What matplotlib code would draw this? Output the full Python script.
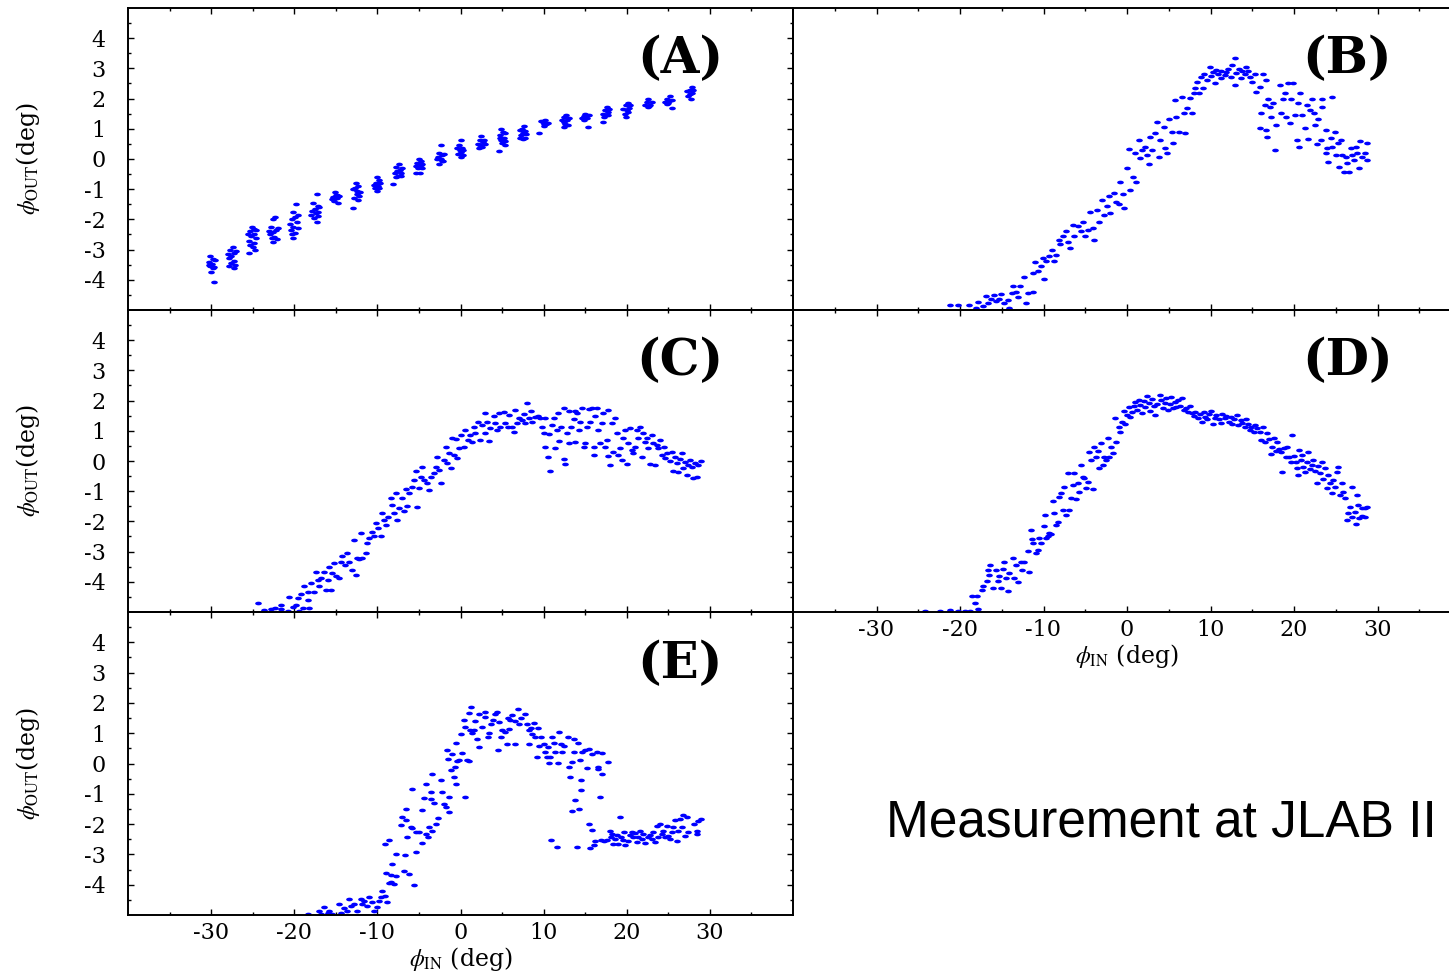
import numpy as np
import matplotlib.pyplot as plt
from matplotlib.path import Path
from matplotlib.ticker import FixedLocator

plt.rcParams['axes.unicode_minus'] = False
plt.rcParams['mathtext.fontset'] = 'stix'
plt.rcParams['font.family'] = ['DejaVu Serif']

# (phi_in, phi_out) pairs in degrees
panel_a = [
    (-30.1, -3.22), (-29.8, -3.30), (-30.2, -3.40), (-29.9, -3.48), (-30.1, -3.55), (-29.8, -3.62), (-30.0, -3.73), (-29.6, -4.08),
    (-29.5, -3.35), (-30.3, -3.50), (-29.7, -3.58),
    (-27.4, -2.92), (-27.7, -3.00), (-27.2, -3.10), (-27.6, -3.20), (-27.9, -3.28), (-27.3, -3.38), (-27.6, -3.45), (-27.8, -3.55), (-27.2, -3.62),
    (-27.0, -3.05), (-28.0, -3.15), (-27.1, -3.50),
    (-25.1, -2.25), (-24.8, -2.32), (-25.3, -2.40), (-24.9, -2.48), (-25.2, -2.55), (-25.4, -2.70), (-24.8, -2.78), (-25.0, -2.90), (-24.7, -3.00), (-25.5, -3.12),
    (-24.6, -2.35), (-25.6, -2.50), (-24.6, -2.62), (-25.3, -2.85),
    (-22.3, -1.93), (-22.6, -2.00), (-22.8, -2.25), (-22.2, -2.35), (-22.5, -2.42), (-22.9, -2.50), (-22.4, -2.58), (-22.1, -2.65), (-22.6, -2.75),
    (-22.0, -2.30), (-23.0, -2.40), (-22.7, -2.62),
    (-19.8, -1.50), (-20.2, -1.75), (-19.9, -1.92), (-20.3, -2.00), (-19.7, -2.10), (-20.1, -2.25), (-20.4, -2.35), (-19.9, -2.45), (-20.2, -2.60),
    (-19.6, -1.85), (-20.5, -2.15), (-19.6, -2.30), (-20.3, -2.50),
    (-17.3, -1.16), (-17.7, -1.45), (-17.2, -1.55), (-17.5, -1.65), (-17.9, -1.72), (-17.4, -1.80), (-17.1, -1.88), (-17.6, -1.97), (-17.3, -2.10),
    (-17.0, -1.60), (-18.0, -1.85), (-17.2, -1.75),
    (-15.1, -1.10), (-14.8, -1.18), (-15.3, -1.25), (-14.9, -1.30), (-15.2, -1.38), (-14.7, -1.45),
    (-14.6, -1.22), (-15.4, -1.32), (-15.0, -1.20),
    (-12.6, -0.78), (-12.3, -0.88), (-12.7, -0.95), (-12.4, -1.05), (-12.5, -1.15), (-12.8, -1.28), (-12.3, -1.35), (-12.9, -1.62),
    (-12.1, -1.10), (-12.9, -1.00), (-12.2, -1.22),
    (-10.1, -0.60), (-9.8, -0.70), (-10.2, -0.80), (-9.9, -0.88), (-10.3, -0.95), (-10.0, -1.05),
    (-9.7, -0.78), (-10.4, -0.85), (-9.8, -0.95),
    (-7.4, -0.15), (-7.7, -0.25), (-7.3, -0.35), (-7.6, -0.40), (-7.2, -0.48), (-7.5, -0.55), (-7.8, -0.60), (-8.1, -0.82),
    (-7.0, -0.30), (-7.9, -0.45), (-7.1, -0.55),
    (-5.0, 0.00), (-4.7, -0.05), (-5.2, -0.12), (-4.8, -0.20), (-5.1, -0.30), (-4.9, -0.45), (-5.3, -0.48),
    (-4.6, -0.15), (-5.4, -0.22), (-4.6, -0.30),
    (-2.4, 0.45), (-2.6, 0.20), (-2.2, 0.12), (-2.7, 0.05), (-2.4, 0.00), (-2.1, -0.08), (-2.6, -0.18),
    (-2.0, 0.15), (-2.8, 0.00), (-2.2, -0.05),
    (0.0, 0.62), (-0.2, 0.45), (0.2, 0.38), (-0.1, 0.30), (0.1, 0.22), (-0.3, 0.15), (0.0, 0.05),
    (0.3, 0.30), (-0.4, 0.35), (0.3, 0.12),
    (2.5, 0.76), (2.3, 0.62), (2.7, 0.55), (2.4, 0.48), (2.6, 0.40), (2.2, 0.35),
    (2.9, 0.50), (2.1, 0.50), (2.8, 0.62),
    (4.9, 1.00), (5.1, 0.88), (4.8, 0.78), (5.2, 0.70), (4.9, 0.62), (5.0, 0.52), (5.3, 0.45), (4.6, 0.28),
    (5.4, 0.60), (4.7, 0.70), (5.4, 0.85),
    (7.6, 1.08), (7.4, 1.00), (7.8, 0.92), (7.5, 0.85), (7.3, 0.78), (7.7, 0.68), (7.5, 0.65),
    (7.1, 0.95), (7.9, 0.82), (7.2, 0.70),
    (10.2, 1.30), (9.9, 1.22), (10.3, 1.15), (10.0, 1.08), (9.5, 0.85),
    (9.7, 1.25), (10.5, 1.20), (10.1, 1.15),
    (12.7, 1.45), (12.4, 1.38), (12.8, 1.30), (12.5, 1.22), (12.9, 1.12), (12.4, 1.05),
    (12.2, 1.28), (13.0, 1.35), (12.6, 1.15),
    (15.0, 1.50), (14.8, 1.42), (15.2, 1.35), (14.9, 1.28), (15.3, 1.05),
    (14.6, 1.35), (15.4, 1.45), (15.0, 1.38),
    (17.6, 1.72), (17.4, 1.62), (17.8, 1.55), (17.5, 1.45), (17.3, 1.38), (17.1, 1.22),
    (17.9, 1.65), (17.2, 1.50), (17.7, 1.45),
    (20.1, 1.85), (19.9, 1.78), (20.3, 1.70), (20.0, 1.62), (19.8, 1.50), (19.9, 1.40),
    (19.6, 1.65), (20.4, 1.80), (20.2, 1.55),
    (22.6, 1.98), (22.4, 1.88), (22.8, 1.80), (22.5, 1.72),
    (22.2, 1.80), (23.0, 1.90), (22.7, 1.75),
    (25.2, 2.10), (24.9, 2.00), (25.1, 1.92), (24.8, 1.82), (25.4, 1.68),
    (24.6, 1.90), (25.4, 1.95), (25.0, 1.85),
    (27.8, 2.38), (27.6, 2.28), (27.9, 2.20), (27.4, 2.10), (27.7, 2.00),
    (27.3, 2.25), (28.0, 2.30), (27.6, 2.15),
]

panel_b = [
    (-21.2, -4.84), (-20.2, -4.82), (-18.9, -4.82), (-18.1, -4.93), (-17.8, -4.72), (-17.3, -4.87), (-16.9, -4.52), (-16.6, -4.76),
    (-16.3, -4.65), (-15.9, -4.50), (-15.7, -4.71), (-15.3, -4.63), (-15.1, -4.46), (-14.7, -4.76), (-14.3, -4.67), (-14.1, -4.93),
    (-13.8, -4.45), (-13.6, -4.19), (-13.3, -4.41), (-13.0, -4.56), (-12.8, -4.19), (-12.3, -3.90), (-12.1, -4.76), (-11.9, -4.43),
    (-11.3, -4.40), (-11.2, -3.77), (-11.0, -3.42), (-10.7, -3.72), (-10.3, -3.55), (-10.1, -3.28), (-9.9, -3.97), (-9.7, -3.39),
    (-9.3, -3.22), (-9.0, -3.00), (-8.8, -3.39), (-8.5, -3.17), (-8.2, -2.67), (-8.0, -2.80), (-7.7, -2.56), (-7.3, -2.40),
    (-7.1, -2.76), (-6.8, -2.95), (-6.5, -2.18), (-6.3, -2.56), (-5.9, -2.23), (-5.5, -2.40), (-5.3, -2.07), (-5.0, -2.56),
    (-4.7, -2.34), (-4.4, -1.74), (-4.1, -2.29), (-3.9, -2.67), (-3.6, -1.70), (-3.3, -2.07), (-3.0, -1.35), (-2.8, -1.85),
    (-2.4, -1.57), (-2.1, -1.24), (-2.0, -1.79), (-1.6, -1.13), (-1.3, -1.41), (-1.0, -1.48), (-0.8, -0.75), (-0.5, -1.15),
    (-0.3, -1.63), (0.0, -0.30), (0.2, 0.32), (0.4, -1.02), (0.7, -0.58), (1.0, 0.19), (1.1, -0.75), (1.4, 0.63),
    (1.6, 0.03), (1.8, 0.30), (2.2, 0.41), (2.4, 0.14), (2.6, -0.16), (2.8, 0.74), (3.0, 0.30), (3.3, 0.85),
    (3.6, 1.23), (3.8, 0.08), (4.0, 0.63), (4.4, 1.05), (4.6, 0.36), (4.8, 0.19), (5.0, 1.34), (5.4, 0.91),
    (5.5, 0.52), (5.8, 1.95), (5.9, 1.38), (6.2, 0.91), (6.6, 2.06), (6.8, 1.51), (6.9, 0.85), (7.2, 1.68),
    (7.6, 2.01), (7.8, 1.51), (8.0, 2.17), (8.2, 2.34), (8.4, 2.56), (8.6, 2.17), (8.9, 2.72), (9.1, 2.34),
    (9.2, 2.83), (9.6, 2.61), (9.9, 3.03), (10.1, 2.74), (10.3, 2.89), (10.5, 2.50), (10.7, 2.96), (10.9, 2.83),
    (11.2, 2.67), (11.3, 2.92), (11.7, 2.77), (11.9, 2.89), (12.1, 2.99), (12.4, 2.70), (12.6, 3.10), (12.9, 3.36),
    (12.9, 2.45), (13.1, 2.85), (13.4, 2.99), (13.6, 2.67), (13.8, 2.92), (14.1, 2.83), (14.3, 3.05), (14.5, 2.92),
    (14.7, 2.72), (15.0, 2.56), (15.3, 2.83), (15.5, 2.23), (15.9, 2.39), (16.3, 2.81), (16.0, 1.53), (15.9, 1.01),
    (16.5, 1.78), (16.7, 2.61), (16.7, 0.96), (16.8, 0.74), (16.9, 1.98), (17.1, 1.73), (17.3, 1.40), (17.5, 1.84),
    (17.7, 0.30), (17.9, 1.12), (18.3, 2.44), (18.5, 1.51), (18.7, 1.98), (18.9, 2.17), (19.1, 1.40), (19.3, 2.50),
    (19.5, 1.18), (19.7, 2.00), (19.9, 2.50), (20.1, 1.45), (20.3, 0.63), (20.5, 1.84), (20.6, 0.39), (20.7, 2.19),
    (20.9, 1.45), (21.3, 1.01), (21.5, 1.78), (21.7, 0.65), (21.9, 1.62), (22.1, 1.98), (22.4, 1.51), (22.5, 1.12),
    (22.8, 0.50), (22.9, 1.34), (23.2, 0.63), (23.4, 1.98), (23.4, 1.73), (23.8, 0.96), (23.8, 0.19), (24.0, 0.36),
    (24.1, -0.09), (24.4, 0.69), (24.6, 2.04), (24.6, 0.41), (24.9, 0.91), (25.0, 0.14), (25.3, 0.52), (25.4, -0.25),
    (25.6, 0.63), (25.8, 0.14), (26.0, -0.42), (26.2, 0.06), (26.4, -0.14), (26.6, -0.42), (26.8, 0.36), (27.0, 0.14),
    (27.2, -0.03), (27.4, 0.41), (27.6, 0.19), (27.8, -0.30), (27.9, 0.58), (28.2, 0.08), (28.5, 0.19), (28.8, 0.52),
    (28.8, -0.03),
]

panel_c = [
    (-24.4, -4.70), (-23.6, -4.95), (-22.8, -4.90), (-22.3, -4.88), (-21.6, -4.76), (-21.6, -4.90), (-20.8, -4.97), (-20.6, -4.50),
    (-20.2, -4.84), (-19.8, -4.77), (-19.6, -4.54), (-19.4, -4.96), (-19.2, -4.40), (-19.0, -4.87), (-18.8, -4.15), (-18.4, -4.60),
    (-18.3, -4.35), (-18.2, -4.87), (-18.0, -4.04), (-17.6, -4.34), (-17.4, -3.69), (-17.2, -3.93), (-17.0, -4.15), (-16.8, -3.88),
    (-16.4, -3.69), (-16.2, -4.26), (-16.0, -3.93), (-15.8, -3.52), (-15.6, -4.26), (-15.4, -3.71), (-15.2, -3.38), (-15.0, -3.82),
    (-14.6, -3.88), (-14.4, -3.33), (-14.2, -3.16), (-13.9, -3.44), (-13.6, -3.05), (-13.4, -3.33), (-13.1, -3.62), (-12.8, -2.63),
    (-12.6, -3.77), (-12.4, -3.22), (-12.2, -3.25), (-12.0, -2.37), (-11.8, -3.22), (-11.4, -3.05), (-11.2, -2.72), (-11.0, -2.56),
    (-10.6, -2.34), (-10.4, -2.50), (-10.2, -2.06), (-9.9, -2.23), (-9.6, -2.50), (-9.4, -1.73), (-9.2, -1.97), (-9.0, -2.12),
    (-8.7, -1.84), (-8.4, -1.23), (-8.3, -1.45), (-8.0, -1.71), (-7.8, -1.05), (-7.6, -1.95), (-7.4, -1.54), (-7.0, -1.23),
    (-6.8, -1.67), (-6.6, -0.94), (-6.4, -1.49), (-6.2, -1.07), (-5.8, -0.85), (-5.6, -0.63), (-5.4, -0.32), (-5.2, -1.51),
    (-5.0, -0.90), (-4.8, -0.52), (-4.6, -0.21), (-4.4, -0.63), (-4.0, -0.74), (-3.8, -0.96), (-3.6, -0.52), (-3.2, -0.41),
    (-3.0, -0.21), (-2.8, 0.14), (-2.6, -0.30), (-2.4, -0.74), (-2.0, 0.03), (-1.8, 0.47), (-1.6, -0.08), (-1.4, 0.28),
    (-1.2, -0.24), (-1.0, 0.75), (-0.8, 0.20), (-0.6, 0.72), (-0.4, 0.09), (-0.2, 0.42), (0.1, 0.86), (0.4, 0.47),
    (0.6, 1.03), (0.9, 0.69), (1.2, 0.86), (1.4, 0.64), (1.6, 1.14), (1.8, 0.92), (2.1, 1.30), (2.4, 0.69),
    (2.6, 1.19), (2.9, 1.58), (3.0, 0.92), (3.2, 1.30), (3.4, 0.67), (3.6, 1.08), (4.0, 1.49), (4.2, 1.25),
    (4.4, 1.03), (4.6, 1.58), (4.8, 1.14), (5.2, 1.62), (5.4, 1.25), (5.7, 1.11), (5.8, 1.52), (6.2, 1.14),
    (6.4, 0.97), (6.6, 1.69), (6.8, 1.25), (7.0, 1.41), (7.4, 1.36), (7.6, 1.55), (7.8, 1.25), (8.0, 1.93),
    (8.2, 1.41), (8.5, 1.66), (8.6, 1.30), (9.0, 1.47), (9.3, 1.49), (9.6, 1.44), (9.8, 1.14), (10.0, 0.92),
    (10.2, 1.41), (10.2, 0.47), (10.5, 0.14), (10.6, 0.89), (10.8, -0.32), (11.0, 1.19), (11.3, 1.44), (11.4, 0.42),
    (11.6, 1.03), (11.7, 1.58), (11.8, 0.67), (12.1, 1.14), (12.4, 1.74), (12.5, 0.05), (12.6, -0.10), (12.8, 0.94),
    (13.0, 1.66), (13.1, 0.58), (13.3, 1.14), (13.6, 1.38), (13.8, 1.66), (13.8, 0.64), (14.0, 1.58), (14.2, 1.03),
    (14.4, 1.30), (14.6, 1.74), (14.8, 0.47), (15.0, 0.58), (15.2, 1.11), (15.4, 1.71), (15.6, 1.30), (15.8, 1.74),
    (16.0, 0.20), (16.1, 0.47), (16.2, 1.49), (16.4, 1.74), (16.6, 1.03), (16.8, 0.61), (17.0, 1.25), (17.2, 1.60),
    (17.4, 0.47), (17.6, 0.69), (17.8, 1.69), (17.8, 0.17), (18.0, -0.13), (18.2, 1.25), (18.4, 0.31), (18.6, 1.41),
    (18.8, 0.92), (19.0, 0.20), (19.2, 0.42), (19.4, 0.03), (19.6, 0.75), (19.8, 1.03), (20.0, -0.10), (20.2, 0.58),
    (20.4, 1.08), (20.6, 0.36), (20.8, 0.25), (21.0, 0.47), (21.2, 1.03), (21.4, 0.75), (21.6, 1.14), (21.8, 0.14),
    (22.0, 0.92), (22.2, 0.64), (22.4, 0.75), (22.6, 0.42), (22.8, -0.10), (23.0, 0.86), (23.2, 0.58), (23.4, -0.13),
    (23.6, 0.53), (23.8, 0.42), (24.0, 0.69), (24.2, 0.20), (24.5, 0.47), (24.6, 0.09), (24.9, 0.28), (25.2, 0.01),
    (25.4, 0.31), (25.6, -0.32), (25.8, 0.14), (26.0, -0.08), (26.2, -0.35), (26.4, 0.06), (26.6, 0.25), (26.8, -0.24),
    (27.0, -0.02), (27.2, -0.46), (27.4, -0.13), (27.6, 0.03), (27.8, -0.21), (28.0, -0.57), (28.2, -0.08), (28.4, -0.52),
    (28.6, -0.13), (28.9, 0.01),
]

panel_d = [
    (-24.2, -4.97), (-22.4, -4.96), (-21.2, -4.95), (-20.2, -4.97), (-19.4, -4.96), (-18.8, -4.96), (-18.2, -4.70), (-17.8, -4.90),
    (-18.6, -4.48), (-18.0, -4.46), (-17.4, -4.26), (-17.2, -4.13), (-16.8, -3.99), (-16.5, -3.77), (-16.6, -3.60), (-16.4, -3.44),
    (-16.1, -4.21), (-15.7, -3.60), (-15.5, -3.99), (-15.3, -3.82), (-15.1, -4.21), (-14.9, -3.58), (-14.7, -3.33), (-14.5, -3.88),
    (-14.3, -4.32), (-14.1, -3.71), (-13.7, -3.22), (-13.5, -3.88), (-13.3, -3.44), (-13.1, -4.02), (-12.7, -3.33), (-12.6, -3.60),
    (-12.3, -3.33), (-11.9, -2.99), (-11.7, -3.69), (-11.5, -2.28), (-11.4, -2.59), (-11.3, -2.72), (-10.9, -3.05), (-10.7, -2.96),
    (-10.5, -2.56), (-10.3, -2.72), (-10.0, -2.15), (-9.8, -1.78), (-9.7, -2.56), (-9.5, -2.50), (-9.3, -2.39), (-9.1, -2.41),
    (-8.9, -1.34), (-8.7, -1.73), (-8.5, -2.12), (-8.3, -2.01), (-8.1, -1.18), (-7.9, -1.07), (-7.7, -1.62), (-7.5, -0.85),
    (-7.3, -1.78), (-7.1, -0.41), (-6.9, -1.62), (-6.7, -1.23), (-6.5, -0.79), (-6.3, -0.41), (-6.1, -1.27), (-5.9, -0.74),
    (-5.7, -1.01), (-5.5, -0.13), (-5.3, -0.52), (-5.1, -0.57), (-4.9, -0.90), (-4.7, -0.68), (-4.5, 0.31), (-4.3, 0.03),
    (-4.1, -0.94), (-3.9, 0.47), (-3.7, 0.14), (-3.5, 0.34), (-3.3, -0.24), (-3.1, 0.58), (-2.9, -0.13), (-2.7, 0.14),
    (-2.5, 0.03), (-2.3, 0.75), (-2.1, 0.12), (-1.9, 0.47), (-1.7, 0.28), (-1.4, 1.41), (-1.3, 0.64), (-1.0, 1.14),
    (-0.8, 0.97), (-0.6, 1.30), (-0.4, 1.66), (-0.2, 1.22), (0.0, 1.52), (0.2, 1.80), (0.4, 1.47), (0.6, 1.63),
    (0.8, 1.82), (1.0, 1.96), (1.2, 1.69), (1.4, 2.02), (1.6, 1.85), (1.8, 1.58), (2.0, 1.99), (2.2, 1.80),
    (2.4, 2.15), (2.6, 1.91), (2.8, 1.66), (3.0, 2.04), (3.2, 1.82), (3.4, 1.52), (3.6, 1.88), (3.9, 2.19),
    (4.1, 2.02), (4.3, 1.74), (4.5, 1.93), (4.7, 2.10), (4.9, 1.69), (5.1, 1.88), (5.3, 2.13), (5.5, 1.74),
    (5.7, 1.96), (5.9, 1.80), (6.1, 2.02), (6.4, 1.82), (6.6, 2.07), (6.8, 1.69), (7.1, 1.74), (7.3, 1.63),
    (7.6, 1.82), (7.8, 1.58), (8.0, 1.49), (8.2, 1.63), (8.5, 1.44), (8.7, 1.55), (9.0, 1.30), (9.2, 1.63),
    (9.4, 1.47), (9.6, 1.38), (9.8, 1.55), (10.1, 1.66), (10.3, 1.22), (10.5, 1.44), (10.7, 1.52), (11.0, 1.38),
    (11.2, 1.27), (11.4, 1.55), (11.7, 1.41), (11.9, 1.49), (12.2, 1.30), (12.4, 1.47), (12.6, 1.22), (12.8, 1.38),
    (13.2, 1.52), (13.3, 1.19), (13.6, 1.36), (13.8, 1.27), (14.1, 1.14), (14.3, 1.38), (14.5, 1.22), (14.7, 1.03),
    (14.9, 1.14), (15.2, 0.97), (15.3, 1.19), (15.6, 1.08), (15.9, 0.97), (16.1, 0.69), (16.3, 1.11), (16.5, 0.64),
    (16.8, 0.92), (17.0, 0.72), (17.2, 0.23), (17.4, 0.47), (17.6, 0.75), (17.8, 0.34), (18.0, 0.64), (18.2, 0.39),
    (18.4, 0.31), (18.6, -0.35), (18.8, 0.42), (19.0, 0.14), (19.2, 0.47), (19.4, 0.12), (19.6, -0.02), (19.8, 0.86),
    (20.0, 0.17), (20.2, -0.02), (20.3, -0.24), (20.5, -0.46), (20.6, 0.36), (20.8, 0.03), (21.0, 0.20), (21.1, -0.19),
    (21.3, -0.35), (21.5, -0.02), (21.7, 0.31), (21.9, -0.28), (22.1, -0.13), (22.3, 0.03), (22.5, -0.32), (22.7, -0.74),
    (22.9, -0.17), (23.1, -0.41), (23.3, -0.02), (23.5, -0.61), (23.7, -0.24), (23.9, -0.90), (24.1, -0.46), (24.3, -0.74),
    (24.5, -1.07), (24.7, -0.63), (24.9, -0.85), (25.1, -0.35), (25.3, -0.21), (25.5, -1.12), (25.7, -0.74), (25.9, -1.01),
    (26.1, -1.23), (26.3, -1.95), (26.5, -1.73), (26.7, -1.51), (26.9, -0.87), (27.0, -1.86), (27.3, -1.68), (27.4, -2.08),
    (27.5, -1.12), (27.7, -1.45), (27.8, -1.90), (28.1, -1.56), (28.2, -1.82), (28.5, -1.56), (28.7, -1.53), (28.5, -1.84),
]

panel_e = [
    (-18.4, -4.97), (-17.0, -4.88), (-16.8, -4.97), (-16.4, -4.73), (-16.0, -4.95), (-15.8, -4.86), (-15.4, -4.97), (-14.6, -4.64),
    (-14.4, -4.95), (-14.0, -4.77), (-13.6, -4.86), (-13.4, -4.47), (-13.2, -4.69), (-12.8, -4.64), (-12.4, -4.86), (-12.0, -4.47),
    (-11.8, -4.64), (-11.6, -4.55), (-11.2, -4.69), (-11.0, -4.42), (-10.7, -4.58), (-10.4, -4.86), (-10.0, -4.75), (-9.8, -4.53),
    (-9.6, -4.42), (-9.4, -4.20), (-9.1, -4.36), (-8.8, -4.58), (-8.6, -3.96), (-8.4, -3.92), (-8.2, -3.32), (-8.0, -3.98),
    (-9.0, -3.63), (-8.4, -3.67), (-7.8, -3.70), (-9.1, -2.66), (-8.6, -2.52), (-7.8, -2.99), (-7.2, -2.02), (-7.0, -1.78),
    (-6.8, -3.54), (-6.7, -3.01), (-6.6, -1.88), (-6.6, -1.50), (-6.4, -2.44), (-6.2, -3.65), (-6.0, -2.11), (-5.8, -0.84),
    (-5.8, -2.13), (-5.6, -4.00), (-5.4, -2.93), (-5.4, -2.27), (-5.0, -2.27), (-4.6, -1.55), (-4.6, -2.63), (-4.4, -1.14),
    (-4.2, -2.33), (-4.2, -0.69), (-3.9, -2.44), (-3.8, -2.11), (-3.6, -1.17), (-3.5, -0.95), (-3.4, -2.22), (-3.4, -0.36),
    (-3.2, -1.31), (-3.0, -1.99), (-2.7, -1.80), (-2.3, -0.56), (-2.2, -0.95), (-2.0, -1.33), (-1.8, -1.44), (-1.6, 0.45),
    (-1.5, 0.15), (-1.4, -1.61), (-1.4, -1.11), (-1.2, -0.23), (-1.0, 0.32), (-0.8, -0.45), (-0.7, -0.10), (-0.6, 0.67),
    (-0.6, -0.69), (-0.4, 0.08), (-0.2, 0.12), (0.0, 0.96), (0.2, 0.34), (0.4, 1.42), (0.5, -1.11), (0.6, 1.22),
    (0.8, 0.10), (1.0, 0.08), (1.0, 1.66), (1.2, 1.11), (1.3, 1.88), (1.4, 1.00), (1.6, 1.11), (1.8, 1.40),
    (2.0, 0.81), (2.2, 0.56), (2.2, 1.62), (2.6, 1.22), (2.9, 1.55), (3.0, 1.70), (3.3, 0.87), (3.4, 1.00),
    (3.7, 1.31), (3.9, 1.44), (4.2, 1.62), (4.4, 1.70), (4.5, 0.43), (4.6, 1.37), (4.9, 0.89), (5.0, 1.09),
    (5.4, 1.04), (5.6, 0.65), (5.7, 1.51), (5.8, 1.14), (6.0, 1.42), (6.2, 1.59), (6.6, 0.65), (6.6, 1.40),
    (6.9, 1.81), (7.0, 1.31), (7.3, 1.51), (7.8, 1.62), (8.0, 1.31), (8.2, 1.11), (8.2, 0.63), (8.5, 1.18),
    (8.6, 0.98), (8.9, 1.33), (9.0, 0.87), (9.2, 0.21), (9.3, 1.18), (9.4, 0.59), (9.7, 0.87), (10.0, 0.63),
    (10.2, 0.37), (10.4, 0.21), (10.5, 0.56), (10.6, 0.01), (10.8, 0.23), (10.9, -2.52), (11.0, 0.87), (11.3, 0.67),
    (11.4, 0.37), (11.6, -2.77), (11.7, 0.01), (11.8, 1.04), (12.1, 0.65), (12.2, 0.37), (12.5, 0.59), (12.9, 0.87),
    (13.0, -0.12), (13.2, -0.43), (13.4, 0.04), (13.4, -1.58), (13.6, 0.81), (13.7, 0.37), (13.8, -1.22), (14.0, -2.75),
    (14.1, 0.67), (14.2, -1.50), (14.4, 0.10), (14.5, -0.56), (14.5, -0.89), (14.6, 0.37), (15.0, 0.43), (15.2, -0.14),
    (15.4, 0.48), (15.4, -1.99), (15.6, -2.79), (15.8, 0.32), (15.8, -2.19), (16.0, -2.68), (16.2, -2.55), (16.4, 0.37),
    (16.5, -0.18), (16.6, -0.12), (16.8, -1.11), (16.9, -2.52), (17.0, -0.36), (17.0, 0.34), (17.3, -2.55), (17.6, -2.52),
    (17.8, 0.04), (18.0, -2.22), (18.1, -2.44), (18.2, -2.33), (18.4, -2.66), (18.6, -2.49), (18.8, -2.35), (19.0, -2.66),
    (19.2, -1.75), (19.3, -2.44), (19.5, -2.52), (19.7, -2.27), (19.8, -2.68), (20.1, -2.55), (20.4, -2.35), (20.6, -2.27),
    (20.8, -2.44), (21.0, -2.30), (21.2, -2.60), (21.3, -2.41), (21.6, -2.22), (21.8, -2.49), (22.0, -2.33), (22.2, -2.63),
    (22.5, -2.44), (22.8, -2.35), (23.0, -2.49), (23.2, -2.27), (23.4, -2.60), (23.6, -2.05), (23.8, -2.44), (24.0, -1.99),
    (24.2, -2.33), (24.4, -2.22), (24.6, -2.44), (24.8, -2.05), (25.0, -2.38), (25.2, -2.49), (25.4, -2.27), (25.6, -2.11),
    (25.8, -1.88), (26.0, -2.55), (26.2, -2.22), (26.4, -1.83), (26.6, -2.11), (26.8, -1.69), (27.0, -2.38), (27.2, -1.78),
    (27.4, -2.27), (28.1, -1.99), (28.4, -2.24), (28.5, -2.33), (28.6, -1.91), (28.9, -1.83),
]

panel_names = ['(A)', '(B)', '(C)', '(D)', '(E)']
x_major = [-30, -20, -10, 0, 10, 20, 30]
x_minor = [-35, -25, -15, -5, 5, 15, 25, 35]
y_major = [-4, -3, -2, -1, 0, 1, 2, 3, 4]
y_minor = [-4.5, -3.5, -2.5, -1.5, -0.5, 0.5, 1.5, 2.5, 3.5, 4.5]

# small flat ellipse used as the data marker
t = np.linspace(0, 2 * np.pi, 33)
dot = Path(np.column_stack([np.cos(t), 0.55 * np.sin(t)]))

fig = plt.figure(figsize=(14.49, 9.71), dpi=100)
W, H = 1449.0, 971.0

# axes boxes in pixels: (left, top, width, height)
boxes = {
    '(A)': (128, 8, 665, 302),
    '(B)': (793, 8, 668, 302),
    '(C)': (128, 310, 665, 302),
    '(D)': (793, 310, 668, 302),
    '(E)': (128, 612, 665, 303),
}
data = {'(A)': panel_a, '(B)': panel_b, '(C)': panel_c, '(D)': panel_d, '(E)': panel_e}

for name in panel_names:
    l, t0, w, h = boxes[name]
    ax = fig.add_axes([l / W, 1 - (t0 + h) / H, w / W, h / H], facecolor='none')
    left_col = l < 400
    bottom_row = name in ('(D)', '(E)')

    pts = np.array(data[name])
    ax.plot(pts[:, 0], pts[:, 1], ls='none', marker=dot, ms=4.8,
            mew=0, color='#0000ff')

    ax.set_xlim(-40, 40)
    ax.set_ylim(-5, 5)
    ax.xaxis.set_major_locator(FixedLocator(x_major))
    ax.xaxis.set_minor_locator(FixedLocator(x_minor))
    ax.yaxis.set_major_locator(FixedLocator(y_major))
    ax.yaxis.set_minor_locator(FixedLocator(y_minor))

    ax.tick_params(which='both', direction='in', top=True, bottom=True,
                   left=left_col, right=left_col, labelleft=left_col,
                   labelbottom=bottom_row, labelsize=16, width=1.0)
    ax.tick_params(which='major', length=4)
    ax.tick_params(which='minor', length=2.3)
    ax.tick_params(axis='x', pad=5)
    ax.tick_params(axis='y', pad=16)
    for sp in ax.spines.values():
        sp.set_linewidth(1.4)

    ax.text(0.83, 0.828, name, transform=ax.transAxes, ha='center', va='center',
            fontsize=36, fontweight='bold')

    if left_col:
        ax.set_ylabel(r'$\phi_{\rm OUT}$(deg)', fontsize=17, va='center')
        ax.yaxis.set_label_coords(-0.15, 0.5)
    if bottom_row:
        ax.set_xlabel(r'$\phi_{\rm IN}$ (deg)', fontsize=17, va='center')
        ax.xaxis.set_label_coords(0.5, -0.146)

fig.text(886 / W, 1 - 836 / H, 'Measurement at JLAB II', fontsize=37,
         family='Liberation Sans', ha='left', va='baseline')

fig.savefig('out.png', dpi=100)
